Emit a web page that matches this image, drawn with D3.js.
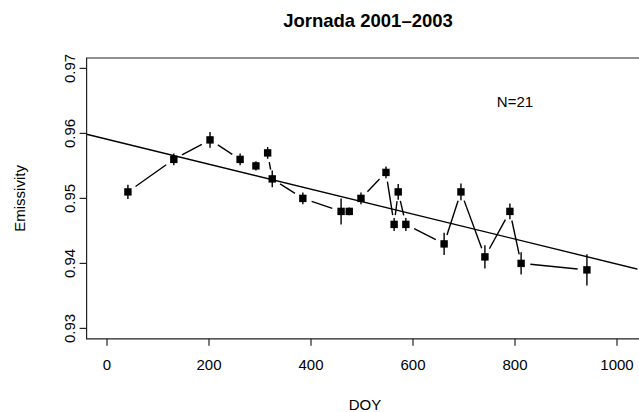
<!DOCTYPE html>
<html>
<head>
<meta charset="utf-8">
<script src="https://cdn.jsdelivr.net/npm/d3@7/dist/d3.min.js"></script>
<style>
  body { margin: 0; background: #fff; }
  text { font-family: "Liberation Sans", Arial, sans-serif; fill: #000; }
</style>
</head>
<body>
<svg id="chart" width="639" height="412"></svg>
<script>
// day of year (cumulative since 2001) and emissivity
var doy = [41, 131, 202, 261, 292, 315, 324, 384, 459, 475, 498, 547, 563, 571, 586, 661, 694, 741, 790, 812, 941];
var emis = [0.951, 0.956, 0.959, 0.956, 0.955, 0.957, 0.953, 0.950, 0.948, 0.948, 0.950, 0.954, 0.946, 0.951, 0.946, 0.943, 0.951, 0.941, 0.948, 0.940, 0.939];
var err = [0.0011, 0.0009, 0.0012, 0.0009, 0.0007, 0.0009, 0.0013, 0.0009, 0.0020, 0.0006, 0.0009, 0.0009, 0.0010, 0.0012, 0.0010, 0.0017, 0.0013, 0.0018, 0.0012, 0.0017, 0.0024];

var xTicks = [0, 200, 400, 600, 800, 1000];
var yTicks = [0.93, 0.94, 0.95, 0.96, 0.97];

// fitted line
var intercept = 0.9591;
var slope = -1.92e-5;

var svg = d3.select("#chart");

var pLeft = 86.6, pRight = 637.4, pTop = 58, pBottom = 338.8;

var x = d3.scaleLinear().domain([-40, 1040]).range([pLeft, pRight]);
var y = d3.scaleLinear().domain([0.9284, 0.9716]).range([pBottom, pTop]);

// title
svg.append("text")
  .attr("x", 368)
  .attr("y", 27)
  .attr("text-anchor", "middle")
  .style("font-size", "18.5px")
  .style("font-weight", "bold")
  .text("Jornada 2001\u20132003");

// clip for the regression line
svg.append("clipPath").attr("id", "plotclip")
  .append("rect").attr("x", pLeft).attr("y", pTop)
  .attr("width", pRight - pLeft).attr("height", pBottom - pTop);

// box (right side runs off the picture)
svg.append("path")
  .attr("d", "M" + (pRight + 4) + "," + pTop + "H" + pLeft + "V" + pBottom + "H" + (pRight + 4))
  .attr("fill", "none")
  .attr("stroke", "#222")
  .attr("stroke-width", 1.2);

// x axis
var xAxis = svg.append("g").attr("transform", "translate(0," + pBottom + ")");
xAxis.selectAll("line.tick").data(xTicks).enter().append("line")
  .attr("class", "tick")
  .attr("x1", function(d) { return x(d); }).attr("x2", function(d) { return x(d); })
  .attr("y1", 0).attr("y2", 7)
  .attr("stroke", "#222").attr("stroke-width", 1.2);
xAxis.selectAll("text").data(xTicks).enter().append("text")
  .attr("x", function(d) { return x(d); })
  .attr("y", 31)
  .attr("text-anchor", "middle")
  .style("font-size", "15px")
  .text(function(d) { return d; });

svg.append("text")
  .attr("x", 365)
  .attr("y", 410)
  .attr("text-anchor", "middle")
  .style("font-size", "15px")
  .text("DOY");

// y axis
var yAxis = svg.append("g").attr("transform", "translate(" + pLeft + ",0)");
yAxis.selectAll("line.tick").data(yTicks).enter().append("line")
  .attr("class", "tick")
  .attr("y1", function(d) { return y(d); }).attr("y2", function(d) { return y(d); })
  .attr("x1", 0).attr("x2", -7)
  .attr("stroke", "#222").attr("stroke-width", 1.2);
yAxis.selectAll("text").data(yTicks).enter().append("text")
  .attr("transform", function(d) { return "translate(-12," + y(d) + ") rotate(-90)"; })
  .attr("text-anchor", "middle")
  .style("font-size", "15px")
  .text(function(d) { return d3.format(".2f")(d); });

svg.append("text")
  .attr("transform", "translate(25," + ((pTop + pBottom) / 2) + ") rotate(-90)")
  .attr("text-anchor", "middle")
  .style("font-size", "15px")
  .text("Emissivity");

// regression line
svg.append("line")
  .attr("clip-path", "url(#plotclip)")
  .attr("x1", x(-40)).attr("y1", y(intercept + slope * -40))
  .attr("x2", x(1100)).attr("y2", y(intercept + slope * 1100))
  .attr("stroke", "#000").attr("stroke-width", 1.4);

// connecting segments with gaps around points (type "b")
var gap = 9.3;
var pts = doy.map(function(d, i) { return [x(d), y(emis[i])]; });
for (var i = 0; i < pts.length - 1; i++) {
  var a = pts[i], b = pts[i + 1];
  var dx = b[0] - a[0], dy = b[1] - a[1];
  var len = Math.sqrt(dx * dx + dy * dy);
  if (len <= 2 * gap) continue;
  var ux = dx / len, uy = dy / len;
  svg.append("line")
    .attr("x1", a[0] + ux * gap).attr("y1", a[1] + uy * gap)
    .attr("x2", b[0] - ux * gap).attr("y2", b[1] - uy * gap)
    .attr("stroke", "#000").attr("stroke-width", 1.4);
}

// error bars
svg.selectAll("line.err").data(doy).enter().append("line")
  .attr("class", "err")
  .attr("x1", function(d) { return x(d); }).attr("x2", function(d) { return x(d); })
  .attr("y1", function(d, i) { return y(emis[i] - err[i]); })
  .attr("y2", function(d, i) { return y(emis[i] + err[i]); })
  .attr("stroke", "#000").attr("stroke-width", 1.4);

// points
var sz = 7.4;
svg.selectAll("rect.pt").data(doy).enter().append("rect")
  .attr("class", "pt")
  .attr("x", function(d) { return x(d) - sz / 2; })
  .attr("y", function(d, i) { return y(emis[i]) - sz / 2; })
  .attr("width", sz).attr("height", sz)
  .attr("fill", "#000");

// sample size label
svg.append("text")
  .attr("x", x(800))
  .attr("y", y(0.9641))
  .attr("text-anchor", "middle")
  .style("font-size", "15px")
  .text("N=21");
</script>
</body>
</html>
